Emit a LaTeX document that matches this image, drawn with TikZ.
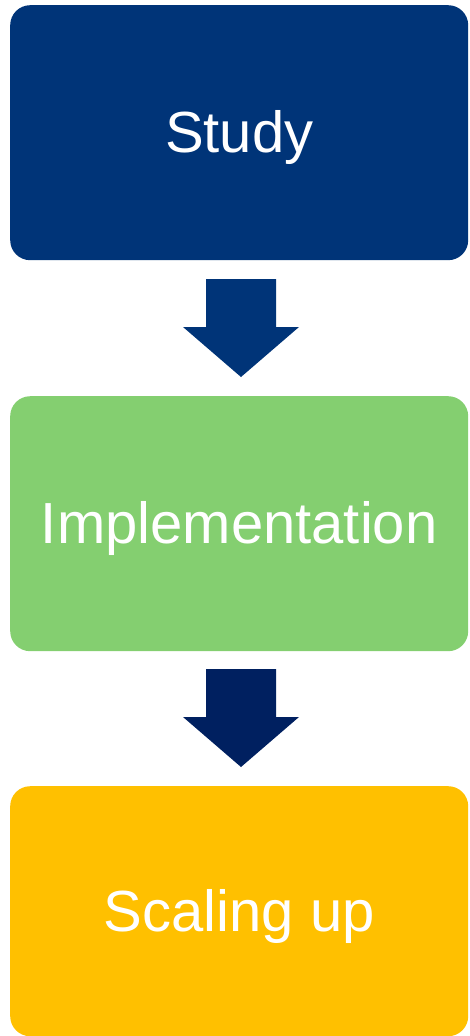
\documentclass[tikz,border=0pt]{standalone}
\usepackage{fontspec}
\setmainfont{Liberation Sans}
\definecolor{studyblue}{RGB}{0,52,120}
\definecolor{implgreen}{RGB}{132,207,112}
\definecolor{scaleyellow}{RGB}{255,192,0}
\definecolor{arrowdark}{RGB}{0,32,96}
\begin{document}
\begin{tikzpicture}[x=1pt,y=-1pt,
  stagebox/.style={rounded corners=20pt, minimum width=458pt, minimum height=255pt, inner sep=0pt, text=white, font=\fontsize{58}{60}\selectfont, text height=40pt, text depth=0pt, anchor=north west}]
\useasboundingbox (0,0) rectangle (469,1036);
\node[stagebox, fill=studyblue] (study) at (10,5) {Study};
\node[stagebox, fill=implgreen] (impl) at (10,396) {Implementation};
\node[stagebox, fill=scaleyellow, minimum height=250pt] (scale) at (10,786) {Scaling up};
\coordinate (a1) at (241,279);
\coordinate (a2) at (241,669);
\fill[studyblue] (a1) ++(-35,0) -- ++(70,0) -- ++(0,48) -- ++(23,0) -- (241,377) -- (183,327) -- (206,327) -- cycle;
\fill[arrowdark] (a2) ++(-35,0) -- ++(70,0) -- ++(0,48) -- ++(23,0) -- (241,767) -- (183,717) -- (206,717) -- cycle;
\end{tikzpicture}
\end{document}
